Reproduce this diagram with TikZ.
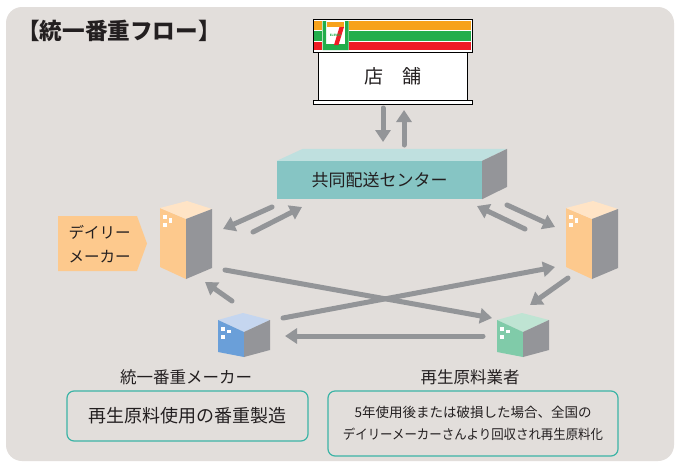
\documentclass[tikz,border=0pt]{standalone}
\usepackage{fontspec}
\setmainfont{Noto Sans CJK JP}
\usetikzlibrary{arrows.meta}

\definecolor{panel}{HTML}{E2DEDB}
\definecolor{arrowgray}{HTML}{939598}
\definecolor{sidegray}{HTML}{949599}
\definecolor{ink}{HTML}{231F20}
\definecolor{tealfront}{HTML}{86C5C4}
\definecolor{tealtop}{HTML}{BFE0DF}
\definecolor{peachfront}{HTML}{FDC98D}
\definecolor{peachtop}{HTML}{FFE4C6}
\definecolor{bluefront}{HTML}{6A9FD9}
\definecolor{bluetop}{HTML}{C5D6EF}
\definecolor{greenfront}{HTML}{80CBA9}
\definecolor{greentop}{HTML}{BFE4D3}
\definecolor{noteteal}{HTML}{3CB4A6}
\definecolor{sevenorange}{HTML}{F7A21B}
\definecolor{sevengreen}{HTML}{22AE4B}
\definecolor{sevenred}{HTML}{EE1C25}

\begin{document}
\begin{tikzpicture}[x=1pt,y=-1pt,
  flow/.style={line width=5pt, draw=arrowgray, line cap=round,
    -{Triangle[length=12pt,width=15pt]}},
  jtext/.style={text=ink, inner sep=0pt},
  note/.style={draw=noteteal, line width=1.2pt, rounded corners=7pt, fill=panel},
  win/.style={fill=white}]
\useasboundingbox (0,0) rectangle (676,463);
\fill[white] (0,0) rectangle (676,463);
\fill[panel, rounded corners=16pt] (6,7) rectangle (674,461);

% heading
\node[jtext, anchor=west, font=\fontsize{22.6}{25}\selectfont\bfseries] (title) at (17,31) {【統一番重フロー】};

% ---------- store ----------
\draw[line width=0.8pt, fill=white] (313,19) rectangle (472,52);
\fill[sevenorange] (314,21) rectangle (471,29.5);
\fill[sevengreen] (314,31) rectangle (471,40.5);
\fill[sevenred] (314,42) rectangle (471,50);
% shop logo
\fill[white] (322,20) rectangle (349,51);
\fill[sevengreen] (322.5,21) -- (326,21) -- (326,44) -- (345,44) -- (345,21) -- (348.5,21) -- (348.5,50) -- (322.5,50) -- cycle;
\fill[sevenorange] (327,22) rectangle (344,27);
\fill[sevenred] (339.5,27) -- (344,27) -- (338.5,45) -- (334,45) -- cycle;
\node[inner sep=0pt, text=sevengreen, font=\fontsize{3}{3}\selectfont\bfseries] (logo) at (335.5,35) {ELEVEn};
\node[draw=black, line width=0.8pt, fill=white, minimum width=149pt, minimum height=48pt,
      text=ink, font=\fontsize{19}{20}\selectfont] (store) at (392.5,76) {店　舗};
\draw[line width=0.8pt, fill=white] (313,100) rectangle (472,104) coordinate (storebase);

% ---------- distribution centre ----------
\node[fill=tealfront, minimum width=205pt, minimum height=38pt, inner sep=0pt,
      text=ink, font=\fontsize{17}{19}\selectfont] (center) at (379.5,180) {共同配送センター};
\fill[tealtop] (center.north west) -- ++(26,-12) -- ++(204,0) -- (center.north east) -- cycle;
\fill[sidegray] (center.north east) -- ++(25,-12) -- ++(0,38) -- (center.south east) -- cycle;

% ---------- daily makers (towers) ----------
\foreach \dx/\nm in {0/dailyL, 406/dailyR}{
  \begin{scope}[shift={(\dx,0)}]
    \fill[peachfront] (160,208) -- (186,219) -- (186,279) -- (160,267) -- cycle;
    \fill[peachtop] (160,208) -- (187,201) -- (212,209) -- (186,219) -- cycle;
    \fill[sidegray] (186,219) -- (212,209) -- (212,268) -- (186,279) -- cycle;
    \fill[win] (163.3,215) rectangle (167,219);
    \fill[win] (168.5,218) rectangle (172,222.5);
    \fill[win] (163.3,223) rectangle (167,227);
    \coordinate (\nm) at (186,240);
  \end{scope}
}

% label tag
\fill[peachfront] (58,216) -- (137,216) -- (147,243.5) -- (137,271) -- (58,271) -- cycle;
\node[jtext, align=left, font=\fontsize{15.5}{24}\selectfont] (taglabel) at (99.5,244) {デイリー\\メーカー};

% ---------- crate maker (blue) and recycler (green) ----------
\foreach \dx/\ft/\tp/\nm in {0/bluefront/bluetop/crate, 279/greenfront/greentop/recycler}{
  \begin{scope}[shift={(\dx,0)}]
    \fill[\tp] (218,320) -- (243,313) -- (270,320) -- (244,332) -- cycle;
    \fill[\ft] (218,320) -- (244,332) -- (244,357) -- (218,352) -- cycle;
    \fill[sidegray] (244,332) -- (270,320) -- (270,350) -- (244,357) -- cycle;
    \fill[win] (221,327) rectangle (224.5,330.5);
    \fill[win] (227,329.5) rectangle (230.5,333);
    \fill[win] (221,335) rectangle (224.5,338.5);
    \coordinate (\nm) at (244,335);
  \end{scope}
}

\node[jtext, font=\fontsize{16.5}{18}\selectfont] (crateName) at (186,377) {統一番重メーカー};
\node[jtext, font=\fontsize{16.5}{18}\selectfont] (recyclerName) at (470,377) {再生原料業者};

\node[note, minimum width=241pt, minimum height=50pt] (crateNote) at (187.5,416) {};
\node[jtext, font=\fontsize{18}{20}\selectfont] at (crateNote) {再生原料使用の番重製造};

\node[note, minimum width=290pt, minimum height=65pt] (recNote) at (473,423.5) {};
\node[jtext, align=center, font=\fontsize{13.5}{22}\selectfont] at (recNote) {5年使用後または破損した場合、全国の\\\scalebox{0.92}[1]{デイリーメーカーさんより回収され再生原料化}};

% ---------- flows ----------
\coordinate (sA) at (383,108);  \coordinate (cA) at (383,142);
\coordinate (cB) at (404,145);  \coordinate (sB) at (404,110);
\draw[flow] (sA) -- (cA);
\draw[flow] (cB) -- (sB);

\coordinate (c1) at (272,207);  \coordinate (l1) at (223,229);
\coordinate (l2) at (253,232);  \coordinate (c2) at (302,207);
\draw[flow] (c1) -- (l1);
\draw[flow] (l2) -- (c2);

\coordinate (r1) at (525,229);  \coordinate (c3) at (477,206);
\coordinate (c4) at (507,205);  \coordinate (r2) at (555,227);
\draw[flow] (r1) -- (c3);
\draw[flow] (c4) -- (r2);

\coordinate (l3) at (225,270);  \coordinate (g1) at (492,318);
\coordinate (b1) at (283,318);  \coordinate (r3) at (555,267);
\draw[flow] (l3) -- (g1);
\draw[flow] (b1) -- (r3);

\coordinate (g2) at (483,336);  \coordinate (b2) at (285,336);
\draw[flow] (g2) -- (b2);

\coordinate (b3) at (232,301);  \coordinate (l4) at (205,282);
\draw[flow] (b3) -- (l4);

\coordinate (r4) at (568,278);  \coordinate (g3) at (530,305);
\draw[flow] (r4) -- (g3);
\end{tikzpicture}
\end{document}
